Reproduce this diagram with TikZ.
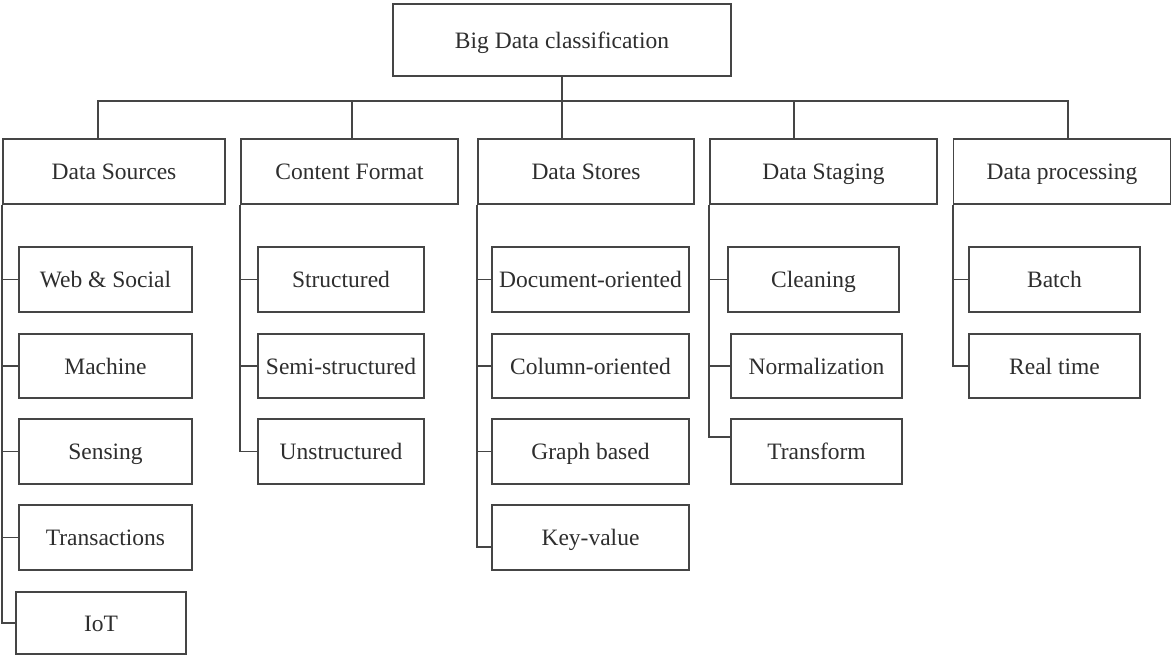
\documentclass[tikz,border=0pt]{standalone}
\usepackage{fontspec}
\setmainfont{Liberation Serif}
\usetikzlibrary{calc}
\definecolor{linec}{HTML}{454545}
\definecolor{textc}{HTML}{2E2E2E}
\begin{document}
\begin{tikzpicture}[x=1pt,y=-1pt,
  box/.style={draw=linec, line width=1.9pt, rectangle, inner sep=0pt, text=textc,
    text height=16pt, text depth=0pt,
    font=\fontsize{23.5}{27}\selectfont},
  conn/.style={draw=linec, line width=1.9pt}]
\useasboundingbox[fill=white] (0,0) rectangle (1173,656);
% root
\node[box, minimum width=338, minimum height=72] (root) at (562,40) {Big Data classification};
% level 1
\node[box, minimum width=222, minimum height=65] (ds)  at (114,171.5)   {Data Sources};
\node[box, minimum width=217, minimum height=65] (cf)  at (349.5,171.5) {Content Format};
\node[box, minimum width=216, minimum height=65] (dst) at (586,171.5)   {Data Stores};
\node[box, minimum width=227, minimum height=65] (dsg) at (823.5,171.5) {Data Staging};
\node[box, minimum width=217, minimum height=65] (dp)  at (1062,171.5)  {Data processing};
% Data Sources children
\node[box, minimum width=173, minimum height=65] (web) at (105.5,279.5) {Web \& Social};
\node[box, minimum width=173, minimum height=64] (mac) at (105.5,366)   {Machine};
\node[box, minimum width=173, minimum height=65] (sen) at (105.5,451.5) {Sensing};
\node[box, minimum width=173, minimum height=65] (tra) at (105.5,537.5) {Transactions};
\node[box, minimum width=170, minimum height=62] (iot) at (101,623)     {IoT};
% Content Format children
\node[box, minimum width=166, minimum height=65] (str) at (341,279.5) {Structured};
\node[box, minimum width=166, minimum height=64] (sem) at (341,366)   {Semi-structured};
\node[box, minimum width=166, minimum height=65] (uns) at (341,451.5) {Unstructured};
% Data Stores children
\node[box, minimum width=197, minimum height=65] (doc) at (590.5,279.5) {Document-oriented};
\node[box, minimum width=197, minimum height=64] (col) at (590.5,366)   {Column-oriented};
\node[box, minimum width=197, minimum height=65] (gra) at (590.5,451.5) {Graph based};
\node[box, minimum width=197, minimum height=65] (kv)  at (590.5,537.5) {Key-value};
% Data Staging children
\node[box, minimum width=171, minimum height=65] (cle) at (813.5,279.5) {Cleaning};
\node[box, minimum width=171, minimum height=64] (nor) at (816.5,366)   {Normalization};
\node[box, minimum width=171, minimum height=65] (trf) at (816.5,451.5) {Transform};
% Data processing children
\node[box, minimum width=171, minimum height=65] (bat) at (1054.5,279.5) {Batch};
\node[box, minimum width=171, minimum height=64] (rea) at (1054.5,366)   {Real time};
% bus
\draw[conn] (root.south) -- ++(0,26);
\draw[conn] ([xshift=-16pt]ds.north) -- ++(0,-37) -| ([xshift=6pt]dp.north);
\draw[conn] ([xshift=2.5pt]cf.north) -- ++(0,-37);
\draw[conn] ([xshift=-24pt]dst.north) -- ++(0,-37);
\draw[conn] ([xshift=-29.5pt]dsg.north) -- ++(0,-37);
% Data Sources
\draw[conn] (ds.south west) |- (web.west);
\draw[conn] (ds.south west) |- (mac.west);
\draw[conn] (ds.south west) |- (sen.west);
\draw[conn] (ds.south west) |- (tra.west);
\draw[conn] (ds.south west) |- (iot.west);
% Content Format
\draw[conn] (cf.south west) |- (str.west);
\draw[conn] (cf.south west) |- (sem.west);
\draw[conn] (cf.south west) |- (uns.west);
% Data Stores
\draw[conn] (dst.south west) |- (doc.west);
\draw[conn] (dst.south west) |- (col.west);
\draw[conn] (dst.south west) |- (gra.west);
\draw[conn] (dst.south west) |- ($(kv.west)+(0,9.5)$);
% Data Staging
\draw[conn] (dsg.south west) |- (cle.west);
\draw[conn] (dsg.south west) |- (nor.west);
\draw[conn] (dsg.south west) |- ($(trf.west)+(0,-14.5)$);
% Data processing
\draw[conn] (dp.south west) |- (bat.west);
\draw[conn] (dp.south west) |- (rea.west);
\end{tikzpicture}
\end{document}
